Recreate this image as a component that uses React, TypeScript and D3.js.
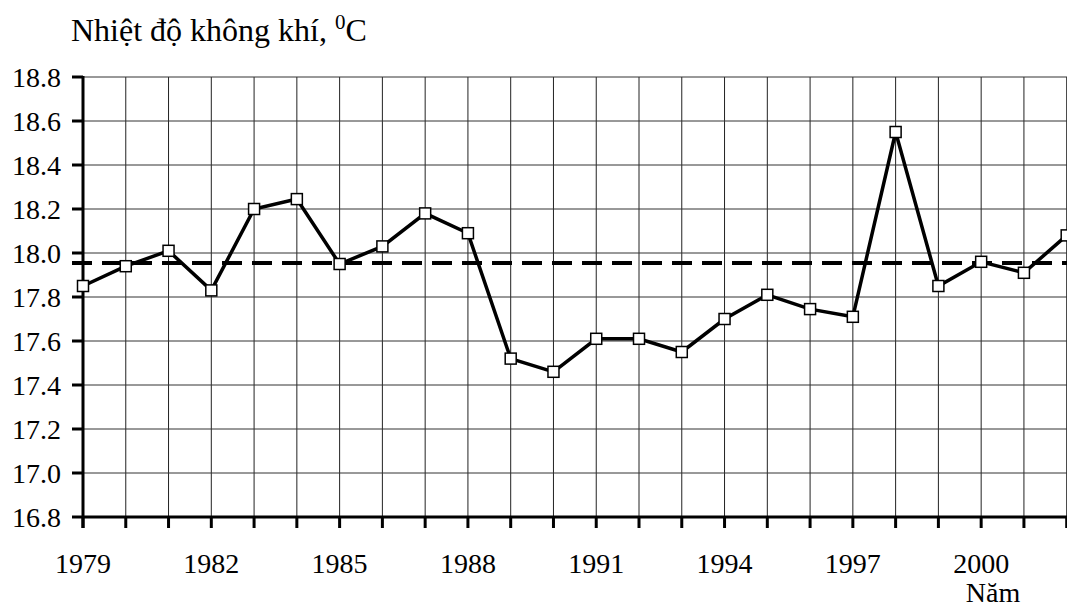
import React from "react";
import * as d3 from "d3";

// years and mean annual air temperature
const years = d3.range(1979, 2003);
const temps = [
  17.85, 17.94, 18.01, 17.83, 18.2, 18.245, 17.95, 18.03, 18.18, 18.09, 17.52, 17.46,
  17.61, 17.61, 17.55, 17.7, 17.81, 17.745, 17.71, 18.55, 17.85, 17.96, 17.91, 18.08,
];
const meanTemp = 17.955;
const yTicks = [16.8, 17.0, 17.2, 17.4, 17.6, 17.8, 18.0, 18.2, 18.4, 18.6, 18.8];
const xLabelYears = [1979, 1982, 1985, 1988, 1991, 1994, 1997, 2000];

const W = 1067,
  H = 607;
const left = 83,
  right = 1066.7,
  top = 77,
  bottom = 517;

const FONT = "Liberation Serif";

export default function App() {
  const x = d3.scaleLinear().domain([1979, 2002]).range([left, right]);
  const y = d3.scaleLinear().domain([16.8, 18.8]).range([bottom, top]);

  const line = d3
    .line<number>()
    .x((d, i) => x(years[i]))
    .y((d) => y(d));

  return (
    <svg
      width={W}
      height={H}
      style={{ position: "absolute", left: 0, top: 0, background: "#fff" }}
    >
      {/* title */}
      <text x={71} y={41} fontSize={32} fontFamily={FONT}>
        Nhiệt độ không khí,{" "}
        <tspan dy={-12} fontSize={21}>
          0
        </tspan>
        <tspan dy={12}>C</tspan>
      </text>

      {/* grid */}
      {years.slice(1).map((yr) => (
        <line key={"v" + yr} x1={x(yr)} x2={x(yr)} y1={top} y2={bottom} stroke="#222" strokeWidth={1} />
      ))}
      {yTicks.slice(1).map((t) => (
        <line key={"h" + t} x1={left} x2={W} y1={y(t)} y2={y(t)} stroke="#333" strokeWidth={1} />
      ))}

      {/* mean line */}
      <line
        x1={72}
        x2={W}
        y1={y(meanTemp)}
        y2={y(meanTemp)}
        stroke="#000"
        strokeWidth={4}
        strokeDasharray="20,10"
      />

      {/* axes */}
      <line x1={left} x2={left} y1={top - 1} y2={bottom + 11} stroke="#000" strokeWidth={3} />
      <line x1={left} x2={W} y1={bottom} y2={bottom} stroke="#000" strokeWidth={3} />
      {yTicks.map((t) => (
        <g key={"yt" + t}>
          <line x1={72} x2={left} y1={y(t)} y2={y(t)} stroke="#000" strokeWidth={3} />
          <text x={61} y={y(t)} dy="0.34em" textAnchor="end" fontSize={28} fontFamily={FONT}>
            {t.toFixed(1)}
          </text>
        </g>
      ))}
      {years.map((yr) => (
        <line key={"xt" + yr} x1={x(yr)} x2={x(yr)} y1={bottom} y2={bottom + 11} stroke="#000" strokeWidth={3} />
      ))}
      {xLabelYears.map((yr) => (
        <text key={"xl" + yr} x={x(yr)} y={573} textAnchor="middle" fontSize={28} fontFamily={FONT}>
          {yr}
        </text>
      ))}
      <text x={993} y={602} textAnchor="middle" fontSize={28} fontFamily={FONT}>
        Năm
      </text>

      {/* data */}
      <path d={line(temps) || ""} fill="none" stroke="#000" strokeWidth={3.5} strokeLinejoin="miter" />
      {temps.map((v, i) => (
        <rect
          key={"m" + i}
          x={x(years[i]) - 5.5}
          y={y(v) - 5.5}
          width={11}
          height={11}
          fill="#fff"
          stroke="#000"
          strokeWidth={1.5}
        />
      ))}
    </svg>
  );
}
